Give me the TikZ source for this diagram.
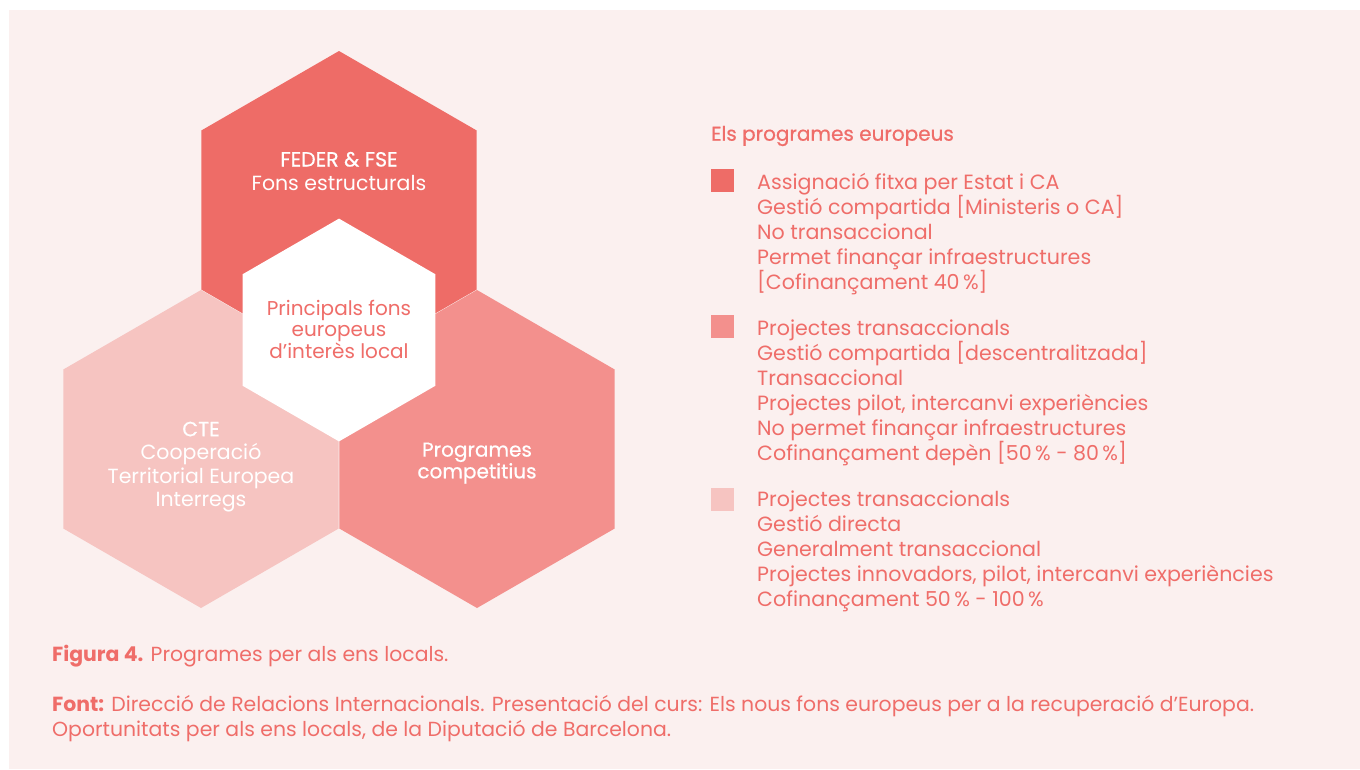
\documentclass[tikz,border=0pt]{standalone}
\usepackage{fontspec}
\setmainfont{Poppins}
\newfontfamily\popmed[FakeBold=0.6]{Poppins}
\definecolor{hexA}{HTML}{EE6C67}
\definecolor{hexB}{HTML}{F3908D}
\definecolor{hexC}{HTML}{F6C4C1}
\definecolor{bgc}{HTML}{FBF0EF}
\definecolor{txt}{HTML}{EF6D69}
\begin{document}
\begin{tikzpicture}[x=1pt,y=-1pt,
  hextext/.style={text=white, align=center, inner sep=0pt, font=\fontsize{20.5}{23.5}\selectfont},
  legtext/.style={text=txt, align=left, inner sep=0pt, font=\fontsize{20.6}{25}\selectfont},
  foottext/.style={text=txt, align=left, inner sep=0pt, font=\fontsize{20.4}{24.3}\selectfont},
  sq/.style={minimum size=23pt, inner sep=0pt, draw=none}]
\useasboundingbox (0,0) rectangle (1360,769);
\fill[white] (0,0) rectangle (1360,769);
\fill[bgc] (9,10) rectangle (1360,769);
% hexagons
\fill[hexA] (339,210) +(30:159) -- +(90:159) -- +(150:159) -- +(210:159) -- +(270:159) -- +(330:159) -- cycle;
\fill[hexC] (201,449) +(30:159) -- +(90:159) -- +(150:159) -- +(210:159) -- +(270:159) -- +(330:159) -- cycle;
\fill[hexB] (477,449) +(30:159) -- +(90:159) -- +(150:159) -- +(210:159) -- +(270:159) -- +(330:159) -- cycle;
\fill[white] (339,330) +(30:111.4) -- +(90:111.4) -- +(150:111.4) -- +(210:111.4) -- +(270:111.4) -- +(330:111.4) -- cycle;
% hexagon texts (anchor base = last line's baseline)
\node[hextext, anchor=base] (feder) at (339,190) {{\popmed FEDER \& FSE}\\Fons estructurals};
\node[hextext, anchor=base, text=txt, font=\fontsize{20}{20.7}\selectfont] (princ) at (339,358) {Principals fons\\europeus\\d’interès local};
\node[hextext, anchor=base] (cte) at (201,506.7) {{\popmed CTE}\\Cooperació\\Territorial Europea\\Interregs};
\node[hextext, anchor=base, font=\popmed\fontsize{20}{21.7}\selectfont] (comp) at (477,478.3) {Programes\\competitius};
% legend
\node[legtext, anchor=base west, font=\popmed\fontsize{20}{25}\selectfont] (title) at (711,140.7) {Els programes europeus};
\node[sq, fill=hexA] (s1) at (722,180.5) {};
\node[sq, fill=hexB] (s2) at (722,326.5) {};
\node[sq, fill=hexC] (s3) at (722,499.5) {};
\node[legtext, anchor=base west] (g1) at (757,289) {Assignació fitxa per Estat i CA\\Gestió compartida [Ministeris o CA]\\No transaccional\\Permet finançar infraestructures\\[0pt][Cofinançament 40\,\%]};
\node[legtext, anchor=base west] (g2) at (757,460) {Projectes transaccionals\\Gestió compartida [descentralitzada]\\Transaccional\\Projectes pilot, intercanvi experiències\\No permet finançar infraestructures\\Cofinançament depèn [50\,\% - 80\,\%]};
\node[legtext, anchor=base west] (g3) at (757,606.7) {Projectes transaccionals\\Gestió directa\\Generalment transaccional\\Projectes innovadors, pilot, intercanvi experiències\\Cofinançament 50\,\% - 100\,\%};
% footer
\node[foottext, anchor=base west] (fig) at (52,661.7) {\textbf{Figura 4.} Programes per als ens locals.};
\node[foottext, anchor=base west] (font) at (52,736) {\textbf{Font:} Direcció de Relacions Internacionals. Presentació del curs: Els nous fons europeus per a la recuperació d’Europa.\\Oportunitats per als ens locals, de la Diputació de Barcelona.};
\end{tikzpicture}
\end{document}
